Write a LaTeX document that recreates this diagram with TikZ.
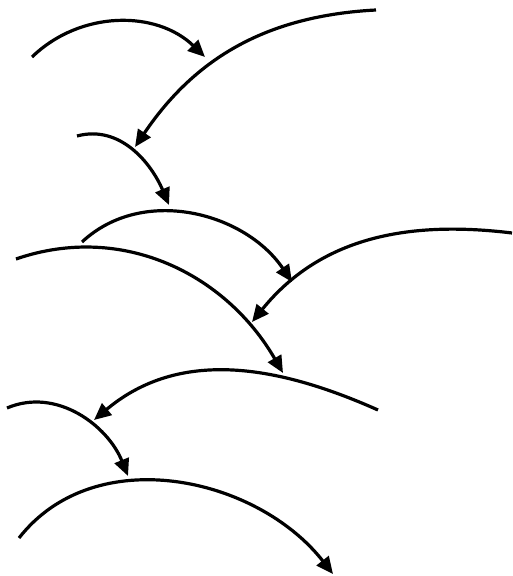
\documentclass[tikz,border=0pt]{standalone}
\usetikzlibrary{arrows.meta}
\begin{document}
\begin{tikzpicture}[x=1pt,y=1pt,
  arc/.style={line width=3.2pt,-{Triangle[length=17pt,width=15pt]}}]
\fill[white] (0,0) rectangle (513,576);
\useasboundingbox (0,0) rectangle (513,576);
% endpoints
\coordinate (s1) at (32,519);  \coordinate (e1) at (205,519);
\coordinate (s2) at (376,566); \coordinate (e2) at (135,429);
\coordinate (s3) at (77,440);  \coordinate (e3) at (169,371);
\coordinate (s4) at (82,334);  \coordinate (e4) at (292,294);
\coordinate (s5) at (512,343); \coordinate (e5) at (252,254);
\coordinate (s6) at (16,317);  \coordinate (e6) at (283,203);
\coordinate (s7) at (378,166); \coordinate (e7) at (94,156);
\coordinate (s8) at (7,168);   \coordinate (e8) at (128,100);
\coordinate (s9) at (19,38);   \coordinate (e9) at (333,2);
\draw[arc] (s1) to[out=44,in=136] (e1);
\draw[arc] (s2) to[out=183,in=56] (e2);
\draw[arc] (s3) to[out=15,in=113] (e3);
\draw[arc] (s4) to[out=43,in=124] (e4);
\draw[arc] (s5) to[out=173,in=51] (e5);
\draw[arc] (s6) to[out=19,in=120] (e6);
\draw[arc] (s7) to[out=156,in=40] (e7);
\draw[arc] (s8) to[out=23,in=112] (e8);
\draw[arc] (s9) to[out=52,in=128] (e9);
\end{tikzpicture}
\end{document}
